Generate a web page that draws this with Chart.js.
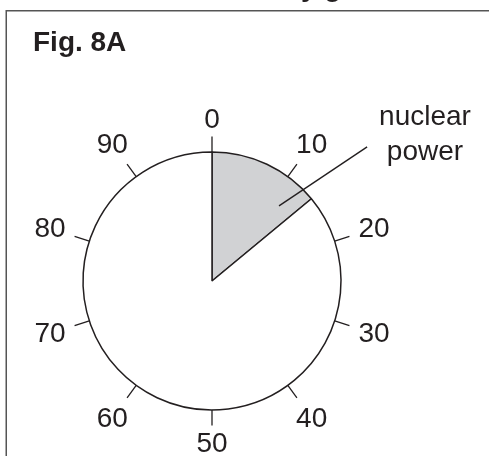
<!DOCTYPE html>
<html>
<head>
<meta charset="utf-8">
<script src="https://cdn.jsdelivr.net/npm/chart.js@4"></script>
<style>
  html, body { margin: 0; padding: 0; background: #fff; }
  #wrap { width: 489px; height: 456px; position: relative; }
</style>
</head>
<body>
<div id="wrap"><canvas id="c" width="489" height="456"></canvas></div>
<script>
// ---- data ----
const categories = ['nuclear power', 'other'];
const seriesValues = [14, 86];
const tickValues = [0, 10, 20, 30, 40, 50, 60, 70, 80, 90];
const tickLabels = ['0', '10', '20', '30', '40', '50', '60', '70', '80', '90'];
const scaleTotal = 100;
const titleText = 'Electricity generation';
const figLabel = 'Fig. 8A';
const calloutLines = ['nuclear', 'power'];

const INK = '#231f20';
const FONT = '"Liberation Sans", Arial, Helvetica, sans-serif';

function angleOf(v) { // Chart.js pie starts at top, clockwise
  return -Math.PI / 2 + (v / scaleTotal) * Math.PI * 2;
}

const decor = {
  id: 'decor',
  afterDraw(chart) {
    const ctx = chart.ctx;
    const arc = chart.getDatasetMeta(0).data[0];
    const cx = arc.x, cy = arc.y, R = arc.outerRadius;
    ctx.save();
    // frame
    ctx.strokeStyle = '#555';
    ctx.lineWidth = 1.5;
    ctx.beginPath();
    ctx.moveTo(489, 10.75);
    ctx.lineTo(6.25, 10.75);
    ctx.lineTo(6.25, 460);
    ctx.stroke();
    // clipped title
    ctx.fillStyle = INK;
    ctx.font = 'bold 28px ' + FONT;
    ctx.textBaseline = 'alphabetic';
    ctx.textAlign = 'left';
    const pre = ctx.measureText('Electricit').width;
    ctx.fillText(titleText, 301 - pre, -4);
    // Fig label
    ctx.font = 'bold 28px ' + FONT;
    ctx.fillText(figLabel, 33, 51);
    // ticks
    ctx.strokeStyle = INK;
    ctx.lineWidth = 1.3;
    ctx.font = '28px ' + FONT;
    ctx.textAlign = 'center';
    ctx.textBaseline = 'middle';
    tickValues.forEach((v, i) => {
      const a = angleOf(v);
      const c = Math.cos(a), s = Math.sin(a);
      ctx.beginPath();
      ctx.moveTo(cx + c * R, cy + s * R);
      ctx.lineTo(cx + c * (R + 15.5), cy + s * (R + 15.5));
      ctx.stroke();
      const d = R + 23 + Math.abs(c) * 16 + Math.abs(s) * 10;
      ctx.fillText(tickLabels[i], cx + c * d, cy + s * d + 1);
    });
    // leader line for callout
    const a1 = angleOf(11.6), r1 = R * 0.78;
    const a2 = angleOf(13.65), r2 = R * 1.59;
    ctx.lineWidth = 1.4;
    ctx.beginPath();
    ctx.moveTo(cx + Math.cos(a1) * r1, cy + Math.sin(a1) * r1);
    ctx.lineTo(cx + Math.cos(a2) * r2, cy + Math.sin(a2) * r2);
    ctx.stroke();
    ctx.textBaseline = 'alphabetic';
    ctx.fillText(calloutLines[0], cx + 213, cy - 156);
    ctx.fillText(calloutLines[1], cx + 213, cy - 121);
    ctx.restore();
  }
};

new Chart(document.getElementById('c'), {
  type: 'pie',
  data: {
    labels: categories,
    datasets: [{
      data: seriesValues,
      backgroundColor: ['#d1d2d4', '#ffffff'],
      borderColor: INK,
      borderWidth: 1.5,
      hoverOffset: 0,
      offset: 0
    }]
  },
  options: {
    responsive: false,
    animation: false,
    events: [],
    radius: 129,
    layout: { padding: { left: 83, right: 148, top: 152, bottom: 46 } },
    plugins: {
      legend: { display: false },
      tooltip: { enabled: false },
      title: { display: false }
    }
  },
  plugins: [decor]
});
</script>
</body>
</html>
